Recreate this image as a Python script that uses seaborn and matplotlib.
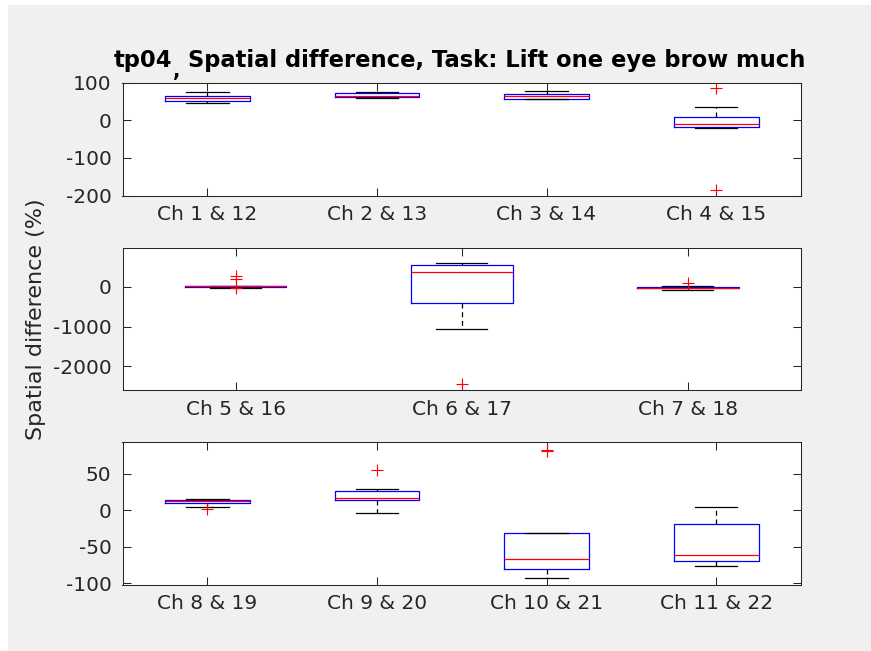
import numpy as np
import pandas as pd
import matplotlib
matplotlib.use("Agg")
import matplotlib.pyplot as plt
import seaborn as sns
from matplotlib.patches import Rectangle

# ---------------- data ----------------
# Panel 1
cats1 = ["Ch 1 & 12", "Ch 2 & 13", "Ch 3 & 14", "Ch 4 & 15"]
lo1 = [45, 58, 56, -21]
q1_1 = [50, 61, 57, -19]
med1 = [59, 65, 64, -11]
q3_1 = [65, 73, 71, 8]
hi1 = [76, 74, 79, 35]
out1_cat = ["Ch 4 & 15", "Ch 4 & 15"]
out1_val = [86, -185]

# Panel 2
cats2 = ["Ch 5 & 16", "Ch 6 & 17", "Ch 7 & 18"]
lo2 = [-25, -1065, -83]
q1_2 = [-12, -403, -35]
med2 = [15, 362, -25]
q3_2 = [20, 539, -15]
hi2 = [22, 589, 18]
out2_cat = ["Ch 5 & 16", "Ch 5 & 16", "Ch 5 & 16", "Ch 6 & 17", "Ch 7 & 18"]
out2_val = [270, 180, -40, -2434, 100]

# Panel 3
cats3 = ["Ch 8 & 19", "Ch 9 & 20", "Ch 10 & 21", "Ch 11 & 22"]
lo3 = [4.1, -3.1, -93.3, -76.9]
q1_3 = [10.1, 14.2, -80.0, -69.1]
med3 = [13.3, 17.3, -67.3, -61.5]
q3_3 = [14.2, 27.0, -30.9, -18.2]
hi3 = [15.5, 29.2, -30.9, 4.1]
out3_cat = ["Ch 8 & 19", "Ch 9 & 20", "Ch 10 & 21", "Ch 10 & 21"]
out3_val = [2.0, 55.2, 83.3, 81.1]

yticks1 = [-200, -100, 0, 100]
yticks2 = [-2000, -1000, 0]
yticks3 = [-100, -50, 0, 50]

title_head = "tp04"
title_mark = ","
title_rest = "Spatial difference, Task: Lift one eye brow much"
ylabel = "Spatial difference (%)"

# ---------------- style ----------------
plt.rcParams["font.family"] = ["DejaVu Sans"]
plt.rcParams["axes.unicode_minus"] = False
DARK = "#262626"

fig = plt.figure(figsize=(8.71, 6.51), dpi=100, facecolor="white")
fig.add_artist(Rectangle((8 / 871, 0), 1, 1 - 5 / 651, transform=fig.transFigure,
                         facecolor="#f0f0f0", edgecolor="none", zorder=-10))

W = 871.0
H = 651.0
left = 122.5 / W
width = (801 - 122.5) / W


def ax_rect(top_px, bot_px):
    return [left, 1 - bot_px / H, width, (bot_px - top_px) / H]


def box_frame(cats, lo, q1, med, q3, hi):
    rows = []
    for c, a, b, m, d, e in zip(cats, lo, q1, med, q3, hi):
        for v in (a, b, b, m, d, d, e):
            rows.append((c, v))
    return pd.DataFrame(rows, columns=["ch", "val"])


panels = [
    (ax_rect(82.6, 195.5), cats1, lo1, q1_1, med1, q3_1, hi1, out1_cat, out1_val,
     (-200, 100), yticks1, 0.5),
    (ax_rect(247.5, 390.4), cats2, lo2, q1_2, med2, q3_2, hi2, out2_cat, out2_val,
     (-2600, 980), yticks2, 0.45),
    (ax_rect(441.9, 584.7), cats3, lo3, q1_3, med3, q3_3, hi3, out3_cat, out3_val,
     (-102, 94), yticks3, 0.5),
]

for rect, cats, lo, q1, med, q3, hi, oc, ov, ylim, yt, bw in panels:
    ax = fig.add_axes(rect)
    ax.set_facecolor("white")
    df = box_frame(cats, lo, q1, med, q3, hi)
    sns.boxplot(data=df, x="ch", y="val", order=cats, ax=ax, whis=(0, 100),
                showfliers=False, width=bw, fill=False, color="blue", linewidth=0.9,
                boxprops=dict(color="blue"),
                medianprops=dict(color="red"),
                whiskerprops=dict(color="black", linestyle=(0, (4, 3))),
                capprops=dict(color="black"))
    odf = pd.DataFrame({"ch": oc, "val": ov})
    sns.stripplot(data=odf, x="ch", y="val", order=cats, ax=ax, jitter=False,
                  marker="+", color="red", size=9, linewidth=0.8, zorder=5)
    ax.set_xlim(-0.5, len(cats) - 0.5)
    ax.set_ylim(*ylim)
    ax.set_yticks(yt)
    ax.set_yticklabels([str(t) for t in yt])
    ax.set_xlabel("")
    ax.set_ylabel("")
    ax.tick_params(direction="in", top=True, right=True, length=6, width=0.75,
                   color=DARK, labelsize=14.5, labelcolor=DARK)
    ax.tick_params(axis="y", pad=8)
    ax.tick_params(axis="x", pad=7)
    for s in ax.spines.values():
        s.set_visible(True)
        s.set_color(DARK)
        s.set_linewidth(0.75)

fig.text(172 / W, 1 - 67 / H, title_head, ha="right", va="baseline",
         fontsize=16.3, fontweight="bold", color="black")
fig.text(177 / W, 1 - 77 / H, title_mark, ha="center", va="baseline",
         fontsize=14, fontweight="bold", color="black")
fig.text(188 / W, 1 - 67 / H, title_rest, ha="left", va="baseline",
         fontsize=16.3, fontweight="bold", color="black")
fig.text(36 / W, 1 - 319 / H, ylabel, rotation=90, ha="center", va="center",
         fontsize=16, color=DARK)

fig.savefig("out.png", dpi=100, facecolor=fig.get_facecolor())
